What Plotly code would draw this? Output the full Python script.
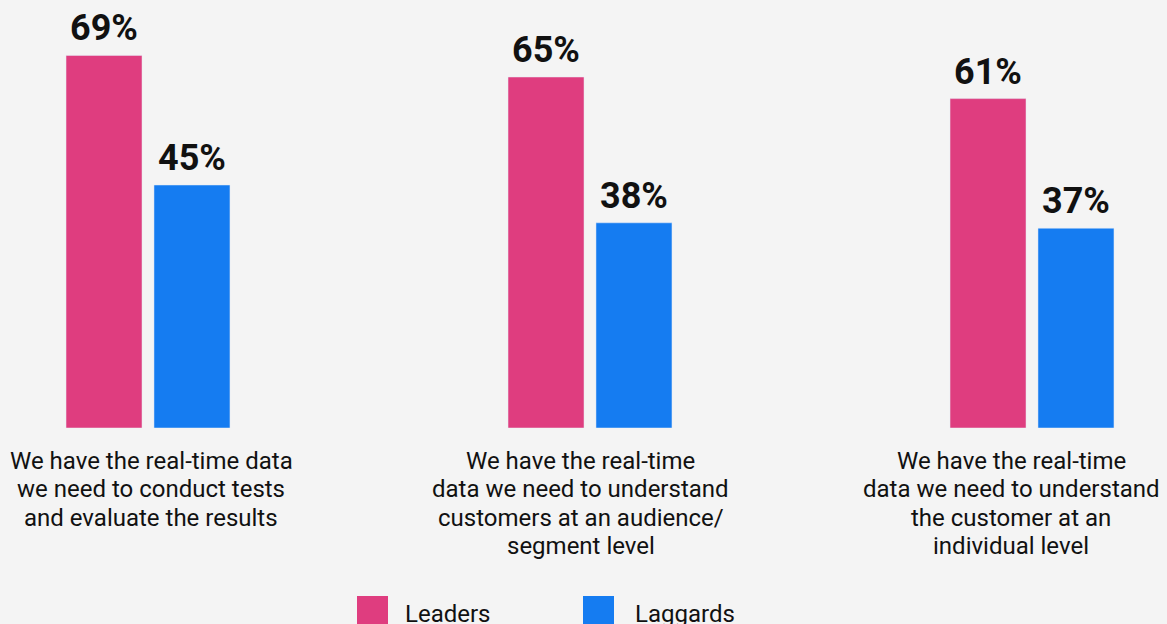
import plotly.graph_objects as go

categories = [
    "We have the real-time data<br>we need to conduct tests<br>and evaluate the results",
    "We have the real-time<br>data we need to understand<br>customers at an audience/<br>segment level",
    "We have the real-time<br>data we need to understand<br>the customer at an<br>individual level",
]
leaders = [69, 65, 61]
laggards = [45, 38, 37]

PINK = "#DF3D7F"
BLUE = "#157CF1"
BG = "#F4F4F4"
INK = "#111111"

W, H = 1167, 624
PLOT_BOTTOM = 428  # pixel row of the baseline

BARGAP = 0.602
GROUPGAP = 0.136
half_slot = (1 - BARGAP) / 4  # centre offset of each bar within its group

# the wrapped labels are nudged sideways a little in the original
label_nudge = [3, -9.5, -21]

x_idx = list(range(len(categories)))

fig = go.Figure()
fig.add_trace(go.Bar(x=x_idx, y=leaders, name="Leaders", marker_color=PINK, showlegend=False))
fig.add_trace(go.Bar(x=x_idx, y=laggards, name="Laggards", marker_color=BLUE, showlegend=False))

annotations = []

# value labels above bars
for offset, vals in ((-half_slot, leaders), (half_slot, laggards)):
    for i, v in zip(x_idx, vals):
        annotations.append(dict(
            x=i + offset, y=v, xref="x", yref="y", text=f"<b>{v}%</b>",
            showarrow=False, yanchor="bottom", yshift=4,
            font=dict(size=36, color=INK, family="Roboto"),
        ))

# category labels, one line at a time (tighter leading than plotly's default)
for i, label, nudge in zip(x_idx, categories, label_nudge):
    for k, line in enumerate(label.split("<br>")):
        annotations.append(dict(
            x=i, y=0, xref="x", yref="y", text=line, showarrow=False,
            yanchor="middle", yshift=-(33 + 28.3 * k), xshift=nudge,
            font=dict(size=24, color=INK, family="Roboto"),
        ))


# custom legend under the chart
def py(p):
    return (PLOT_BOTTOM - p) / PLOT_BOTTOM


shapes = []
for x0, tx, color, label in ((357, 403, PINK, "Leaders"), (583, 633, BLUE, "Laggards")):
    shapes.append(dict(type="rect", xref="paper", yref="paper",
                       x0=x0 / W, x1=(x0 + 31) / W, y0=py(596), y1=py(628),
                       fillcolor=color, line=dict(width=0)))
    annotations.append(dict(x=tx / W, y=py(614), xref="paper", yref="paper",
                            text=label, showarrow=False, xanchor="left", yanchor="middle",
                            font=dict(size=24, color=INK, family="Roboto")))

fig.update_layout(
    width=W, height=H,
    margin=dict(l=0, r=0, t=0, b=H - PLOT_BOTTOM),
    paper_bgcolor=BG, plot_bgcolor=BG,
    barmode="group", bargap=BARGAP, bargroupgap=GROUPGAP,
    annotations=annotations, shapes=shapes,
    font=dict(family="Roboto", color=INK),
)
fig.update_xaxes(range=[-148 / 442, 2 + 135 / 442], visible=False)
fig.update_yaxes(range=[0, PLOT_BOTTOM / 5.4], visible=False)

fig.write_html("out.html", config={"displayModeBar": False},
               post_script="document.body.style.margin='0';")
